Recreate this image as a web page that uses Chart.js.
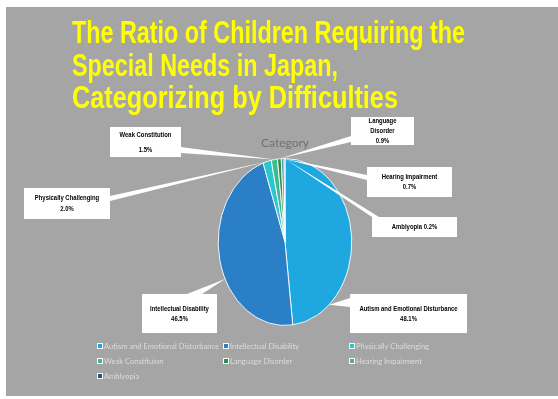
<!DOCTYPE html>
<html>
<head>
<meta charset="utf-8">
<script src="https://cdn.jsdelivr.net/npm/chart.js@4.4.0/dist/chart.umd.min.js"></script>
<style>
  html, body { margin: 0; padding: 0; background: #ffffff; }
  canvas { display: block; }
</style>
</head>
<body>
<canvas id="chart" width="558" height="399"></canvas>
<script>
// chart data
const titleLines = ['The Ratio of Children Requiring the', 'Special Needs in Japan,', 'Categorizing by Difficulties'];
const seriesName = 'Category';
const categories = ['Autism and Emotional Disturbance', 'Intellectual Disability', 'Physically Challenging', 'Weak Constitution', 'Language Disorder', 'Hearing Impairment', 'Amblyopia'];
const legendLabels = ['Autism and Emotional Disturbance', 'Intellectual Disability', 'Physically Challenging', 'Weak Constituion', 'Language Disorder', 'Hearing Impairment', 'Amblyopia'];
const ratios = [48.1, 46.5, 2.0, 1.5, 0.9, 0.7, 0.2];
const sliceColors = ['#1fa8e0', '#2a7fc6', '#2cc6cf', '#3dbb8c', '#2e8b4f', '#5aa3a6', '#1b5a80'];

// look of the slide
const BG_GRAY = '#a5a5a5';
const SQUASH = 0.8; // pie is drawn as an ellipse, narrower than tall
const titleBaselines = [43, 76, 108];
const titleWidths = [393, 266, 326];

// callout boxes: [x, y, w, h], how the text wraps, where the pointer leaves the box
const callouts = [
    { box: [350, 294, 117, 39], wrap: 'two', lh: 10, side: 'left', at: [4, 13], frac: 0.8 },
    { box: [142, 294, 75, 39], wrap: 'two', lh: 10, side: 'top', at: [45, 60], frac: 0.42 },
    { box: [24, 188, 86, 31], wrap: 'two', lh: 11, side: 'right', at: [8, 13], frac: 0.5 },
    { box: [110, 127, 71, 30], wrap: 'two', lh: 15, side: 'right', at: [20, 26], frac: 0.5 },
    { box: [351, 117, 63, 28], wrap: 'words', lh: 10, side: 'left', at: [19, 25], frac: 0.5 },
    { box: [367, 167, 85, 30], wrap: 'two', lh: 10, side: 'left', at: [8, 13], frac: 0.5 },
    { box: [372, 217, 85, 20], wrap: 'one', lh: 10, side: 'top', at: [0, 7], frac: 0.5 }
];

const legendCols = [100, 226, 352];
const legendRows = [346, 361, 376];

function squashedText(ctx, text, x, y, f) {
    ctx.save();
    ctx.translate(x, y);
    ctx.scale(f, 1);
    ctx.fillText(text, 0, 0);
    ctx.restore();
}

function calloutLines(i, wrap) {
    const pct = ratios[i].toFixed(1) + '%';
    if (wrap === 'one') return [categories[i] + ' ' + pct];
    if (wrap === 'words') return categories[i].split(' ').concat([pct]);
    return [categories[i], pct];
}

function basePoints(c) {
    const [x, y, w, h] = c.box;
    if (c.side === 'left') return [[x, y + c.at[0]], [x, y + c.at[1]]];
    if (c.side === 'right') return [[x + w, y + c.at[0]], [x + w, y + c.at[1]]];
    return [[x + c.at[0], y], [x + c.at[1], y]];
}

const backgroundPlugin = {
    id: 'slideBackground',
    beforeDraw(chart) {
        const ctx = chart.ctx;
        ctx.save();
        ctx.fillStyle = '#ffffff';
        ctx.fillRect(0, 0, chart.width, chart.height);
        ctx.fillStyle = BG_GRAY;
        ctx.fillRect(6, 7, chart.width - 6, 389);
        ctx.restore();
    }
};

// squeeze the pie horizontally around its centre
const ellipsePlugin = {
    id: 'ellipsePie',
    beforeDatasetsDraw(chart) {
        const arc = chart.getDatasetMeta(0).data[0];
        const ctx = chart.ctx;
        ctx.save();
        ctx.translate(arc.x, arc.y);
        ctx.scale(SQUASH, 1);
        ctx.translate(-arc.x, -arc.y);
    },
    afterDatasetsDraw(chart) {
        chart.ctx.restore();
    }
};

const overlayPlugin = {
    id: 'slideOverlay',
    afterDraw(chart) {
        const ctx = chart.ctx;
        const arcs = chart.getDatasetMeta(0).data;
        ctx.save();

        // title
        ctx.fillStyle = '#ffff00';
        ctx.font = 'bold 32px "Liberation Sans Narrow", "Liberation Sans", Arial, sans-serif';
        ctx.textAlign = 'left';
        ctx.textBaseline = 'alphabetic';
        titleLines.forEach((t, k) => {
            const f = titleWidths[k] / ctx.measureText(t).width;
            squashedText(ctx, t, 72, titleBaselines[k], f);
        });

        // series name above the pie
        ctx.fillStyle = '#707070';
        ctx.font = '12px Lato, "Noto Sans", sans-serif';
        ctx.textAlign = 'center';
        ctx.textBaseline = 'middle';
        ctx.fillText(seriesName, 285, 143);

        // callout pointers first, then boxes
        ctx.fillStyle = '#ffffff';
        callouts.forEach((c, i) => {
            const a = arcs[i];
            const ang = a.startAngle + (a.endAngle - a.startAngle) * c.frac;
            const tipX = a.x + a.outerRadius * Math.cos(ang) * SQUASH;
            const tipY = a.y + a.outerRadius * Math.sin(ang);
            const [p1, p2] = basePoints(c);
            ctx.beginPath();
            ctx.moveTo(tipX, tipY);
            ctx.lineTo(p1[0], p1[1]);
            ctx.lineTo(p2[0], p2[1]);
            ctx.closePath();
            ctx.fill();
        });
        callouts.forEach((c, i) => {
            const [x, y, w, h] = c.box;
            ctx.fillStyle = '#ffffff';
            ctx.fillRect(x, y, w, h);
            const lines = calloutLines(i, c.wrap);
            ctx.fillStyle = '#000000';
            ctx.font = 'bold 7.4px "Liberation Sans", Arial, sans-serif';
            ctx.textAlign = 'center';
            ctx.textBaseline = 'middle';
            const y0 = y + h / 2 - (lines.length - 1) * c.lh / 2;
            lines.forEach((t, k) => squashedText(ctx, t, x + w / 2, y0 + k * c.lh, 0.8));
        });

        // legend, three columns
        ctx.font = '8px Lato, "Noto Sans", sans-serif';
        ctx.textAlign = 'left';
        ctx.textBaseline = 'middle';
        const lf = 115 / ctx.measureText(legendLabels[0]).width;
        legendLabels.forEach((t, i) => {
            const lx = legendCols[i % 3];
            const ly = legendRows[Math.floor(i / 3)];
            ctx.fillStyle = '#ffffff';
            ctx.fillRect(lx - 3, ly - 3, 6, 6);
            ctx.fillStyle = sliceColors[i];
            ctx.fillRect(lx - 2, ly - 2, 4, 4);
            ctx.fillStyle = '#dcdcdc';
            squashedText(ctx, t, lx + 4, ly, lf);
        });

        ctx.restore();
    }
};

new Chart(document.getElementById('chart'), {
    type: 'pie',
    data: {
        labels: categories,
        datasets: [{
            label: seriesName,
            data: ratios,
            backgroundColor: sliceColors,
            borderColor: '#ffffff',
            borderWidth: 1
        }]
    },
    options: {
        responsive: false,
        animation: false,
        devicePixelRatio: 1,
        layout: {
            padding: { left: 201, right: 189, top: 158, bottom: 73 }
        },
        plugins: {
            legend: { display: false },
            title: { display: false },
            tooltip: { enabled: false }
        }
    },
    plugins: [backgroundPlugin, ellipsePlugin, overlayPlugin]
});
</script>
</body>
</html>
